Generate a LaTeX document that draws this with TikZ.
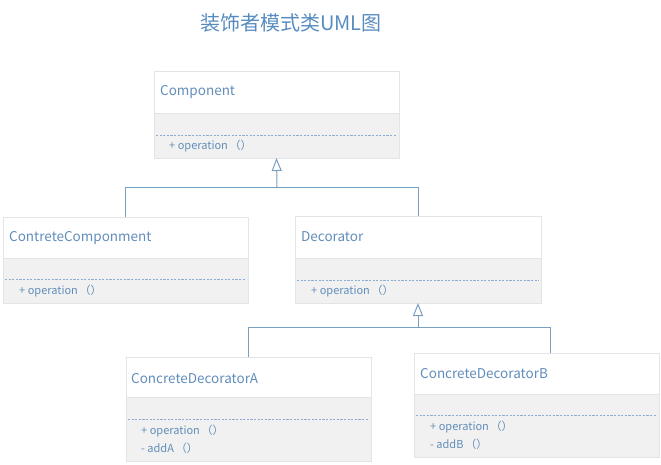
\documentclass[tikz,border=0pt]{standalone}
\usepackage{fontspec}
\setmainfont{Noto Sans CJK SC}
\usetikzlibrary{arrows.meta}
\definecolor{txt}{RGB}{98,142,186}
\definecolor{ttl}{RGB}{88,140,192}
\definecolor{brd}{RGB}{226,228,232}
\definecolor{gfill}{RGB}{241,241,241}
\definecolor{dsh}{RGB}{140,172,210}
\definecolor{cn}{RGB}{120,160,195}
\tikzset{
  titlesec/.style={draw=brd, fill=white, line width=0.8pt, anchor=north west, minimum width=#1, minimum height=42pt, inner sep=0pt, outer sep=0pt},
  membsec/.style={draw=brd, fill=gfill, line width=0.8pt, anchor=north west, minimum width=#1, inner sep=0pt, outer sep=0pt},
  cname/.style={anchor=west, text=txt, font=\fontsize{13.5}{16}\selectfont, inner sep=0pt},
  memb/.style={anchor=west, text=txt, font=\fontsize{11}{13}\selectfont, inner sep=0pt},
  dline/.style={draw=dsh, line width=0.7pt, dash pattern=on 2.2pt off 1.4pt},
  conn/.style={draw=cn, line width=1pt},
  inh/.style={conn, -{Triangle[open, length=13pt, width=10pt]}}
}
\begin{document}
\begin{tikzpicture}[x=1pt,y=-1pt]
\useasboundingbox (0,0) rectangle (661,464);
\node[text=ttl, font=\fontsize{20}{24}\selectfont, inner sep=0pt] (title) at (291,23) {装饰者模式类UML图};

% Component
\node[titlesec=245pt] (compT) at (154,71) {};
\node[membsec=245pt, minimum height=45pt] (compM) at (154,113) {};
\draw[dline] (156,135) -- (397,135);
\node[cname] (compN) at (160,92) {Component};
\node[memb] (compO) at (169,146) {+ operation\,（）};

% ContreteComponment
\node[titlesec=245pt, minimum height=41pt] (ccT) at (3,217) {};
\node[membsec=245pt, minimum height=45pt] (ccM) at (3,258) {};
\draw[dline] (5,279) -- (246,279);
\node[cname] (ccN) at (9,238) {ContreteComponment};
\node[memb] (ccO) at (19,291) {+ operation\,（）};

% Decorator
\node[titlesec=246pt, minimum height=42pt] (decT) at (295,216) {};
\node[membsec=246pt, minimum height=45pt] (decM) at (295,258) {};
\draw[dline] (297,280) -- (539,280);
\node[cname] (decN) at (301,237) {Decorator};
\node[memb] (decO) at (311,291) {+ operation\,（）};

% ConcreteDecoratorA
\node[titlesec=245pt, minimum height=40pt] (aT) at (126,357) {};
\node[membsec=245pt, minimum height=64pt] (aM) at (126,397) {};
\draw[dline] (128,419) -- (369,419);
\node[cname] (aN) at (131,379) {ConcreteDecoratorA};
\node[memb] (aO1) at (141,431) {+ operation\,（）};
\node[memb] (aO2) at (141,448) {- addA\,（）};

% ConcreteDecoratorB
\node[titlesec=245pt, minimum height=41pt] (bT) at (414,353) {};
\node[membsec=245pt, minimum height=63pt] (bM) at (414,394) {};
\draw[dline] (416,415) -- (657,415);
\node[cname] (bN) at (420,374) {ConcreteDecoratorB};
\node[memb] (bO1) at (430,427) {+ operation\,（）};
\node[memb] (bO2) at (430,444) {- addB\,（）};

% connectors
\coordinate (j1) at (277,187);
\coordinate (j2) at (418,327);
\coordinate (bTop) at (550,353);
\draw[conn] (ccT.north) |- (j1);
\draw[conn] (decT.north) |- (j1);
\draw[inh] (j1) -- (compM.south);
\draw[conn] (aT.north) |- (j2);
\draw[conn] (bTop) |- (j2);
\draw[inh] (j2) -- (decM.south);
\end{tikzpicture}
\end{document}
